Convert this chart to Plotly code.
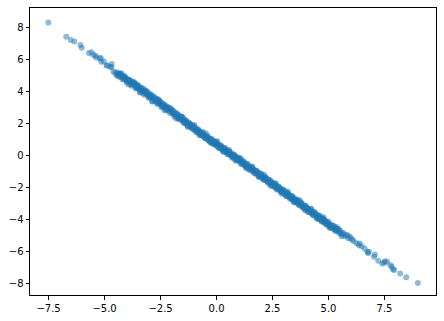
import plotly.graph_objects as go

# Sparse upper-left tail
x_left = [-7.51, -6.71, -6.51, -6.35, -6.08, -6.02, -5.70, -5.58, -5.50, -5.40, -5.37,
          -5.21, -5.17, -5.15, -5.03, -4.91, -4.88, -4.73, -4.70, -4.68, -4.60]
y_left = [8.33, 7.44, 7.23, 7.14, 6.92, 6.75, 6.42, 6.46, 6.29, 6.25, 6.14,
          6.08, 6.10, 5.87, 5.89, 5.63, 5.63, 5.56, 5.52, 5.73, 5.25]

# Dense central band
x_band = [-4.52, -4.47, -4.44, -4.40, -4.36, -4.31, -4.28, -4.22, -4.19, -4.14, -4.11, -4.06,
          -4.02, -3.98, -3.95, -3.90, -3.86, -3.83, -3.78, -3.74, -3.71, -3.66, -3.62, -3.59,
          -3.55, -3.50, -3.47, -3.43, -3.38, -3.35, -3.31, -3.26, -3.22, -3.19, -3.14, -3.11,
          -3.06, -3.02, -2.99, -2.94, -2.91, -2.86, -2.82, -2.79, -2.74, -2.71, -2.66, -2.62,
          -2.58, -2.55, -2.50, -2.47, -2.43, -2.38, -2.35, -2.30, -2.27, -2.22, -2.19, -2.14,
          -2.10, -2.07, -2.02, -1.98, -1.95, -1.90, -1.87, -1.82, -1.78, -1.75, -1.70, -1.66,
          -1.63, -1.58, -1.55, -1.50, -1.46, -1.43, -1.38, -1.34, -1.31, -1.26, -1.23, -1.18,
          -1.14, -1.11, -1.06, -1.02, -0.99, -0.94, -0.91, -0.86, -0.82, -0.79, -0.74, -0.70,
          -0.67, -0.62, -0.58, -0.55, -0.50, -0.46, -0.43, -0.38, -0.34, -0.31, -0.26, -0.22,
          -0.19, -0.14, -0.10, -0.07, -0.02, 0.02, 0.05, 0.10, 0.14, 0.17, 0.22, 0.26,
          0.29, 0.34, 0.38, 0.41, 0.46, 0.50, 0.53, 0.58, 0.62, 0.65, 0.70, 0.74,
          0.77, 0.82, 0.86, 0.89, 0.94, 0.98, 1.01, 1.06, 1.10, 1.13, 1.18, 1.22,
          1.25, 1.30, 1.34, 1.37, 1.42, 1.46, 1.49, 1.54, 1.58, 1.61, 1.66, 1.70,
          1.73, 1.78, 1.82, 1.85, 1.90, 1.94, 1.97, 2.02, 2.06, 2.09, 2.14, 2.18,
          2.21, 2.26, 2.30, 2.33, 2.38, 2.42, 2.45, 2.50, 2.54, 2.57, 2.62, 2.66,
          2.69, 2.74, 2.78, 2.81, 2.86, 2.90, 2.93, 2.98, 3.02, 3.05, 3.10, 3.14,
          3.17, 3.22, 3.26, 3.29, 3.34, 3.38, 3.41, 3.46, 3.50, 3.53, 3.58, 3.62,
          3.65, 3.70, 3.74, 3.77, 3.82, 3.86, 3.89, 3.94, 3.98, 4.01, 4.06, 4.10,
          4.13, 4.18, 4.22, 4.25, 4.30, 4.34, 4.37, 4.42, 4.46, 4.49, 4.54, 4.58,
          4.61, 4.66, 4.70, 4.73, 4.78, 4.82, 4.85, 4.90, 4.94, 4.97, 5.02, 5.07,
          5.12, 5.18, 5.23, 5.29, 5.34, 5.41, 5.47, 5.53, 5.60, 5.66, 5.72]
y_band = [5.18, 5.02, 5.21, 5.05, 5.12, 4.93, 5.06, 4.88, 5.01, 4.79, 4.95, 4.86,
          4.67, 4.79, 4.61, 4.72, 4.55, 4.68, 4.49, 4.61, 4.43, 4.52, 4.31, 4.48,
          4.27, 4.41, 4.22, 4.29, 4.11, 4.24, 4.05, 4.18, 3.97, 4.06, 3.86, 3.99,
          3.79, 3.91, 3.72, 3.80, 3.63, 3.75, 3.52, 3.66, 3.47, 3.58, 3.36, 3.49,
          3.31, 3.41, 3.18, 3.34, 3.12, 3.22, 3.03, 3.16, 2.96, 3.06, 2.87, 3.01,
          2.79, 2.93, 2.71, 2.82, 2.63, 2.77, 2.55, 2.66, 2.47, 2.58, 2.36, 2.51,
          2.29, 2.40, 2.19, 2.33, 2.12, 2.22, 2.01, 2.15, 1.93, 2.06, 1.87, 1.95,
          1.76, 1.89, 1.68, 1.79, 1.60, 1.72, 1.51, 1.64, 1.45, 1.53, 1.32, 1.47,
          1.26, 1.36, 1.17, 1.30, 1.09, 1.19, 1.02, 1.12, 0.93, 1.06, 0.85, 0.96,
          0.78, 0.90, 0.71, 0.82, 0.63, 0.76, 0.55, 0.66, 0.48, 0.61, 0.39, 0.52,
          0.33, 0.43, 0.24, 0.37, 0.16, 0.28, 0.09, 0.21, 0.01, 0.12, -0.07, 0.05,
          -0.14, -0.03, -0.23, -0.09, -0.31, -0.18, -0.38, -0.26, -0.47, -0.33, -0.55, -0.42,
          -0.61, -0.50, -0.70, -0.57, -0.79, -0.66, -0.86, -0.73, -0.95, -0.82, -1.03, -0.91,
          -1.10, -0.98, -1.19, -1.06, -1.27, -1.14, -1.35, -1.22, -1.43, -1.31, -1.51, -1.38,
          -1.58, -1.47, -1.67, -1.54, -1.75, -1.63, -1.83, -1.70, -1.91, -1.79, -2.00, -1.86,
          -2.07, -1.95, -2.16, -2.03, -2.24, -2.11, -2.31, -2.19, -2.40, -2.27, -2.48, -2.35,
          -2.56, -2.44, -2.64, -2.51, -2.72, -2.60, -2.80, -2.68, -2.89, -2.76, -2.97, -2.84,
          -3.05, -2.92, -3.13, -3.01, -3.21, -3.09, -3.29, -3.17, -3.38, -3.25, -3.46, -3.33,
          -3.54, -3.42, -3.62, -3.49, -3.70, -3.58, -3.78, -3.66, -3.86, -3.73, -3.95, -3.82,
          -4.02, -3.90, -4.11, -3.98, -4.19, -4.06, -4.26, -4.15, -4.35, -4.22, -4.43, -4.30,
          -4.52, -4.41, -4.63, -4.50, -4.71, -4.62, -4.84, -4.73, -4.95, -4.86, -5.07]

# Second layer of band points
x_band2 = [-4.42, -4.33, -4.17, -4.08, -3.96, -3.88, -3.80, -3.64, -3.57, -3.52, -3.45, -3.36,
           -3.28, -3.24, -3.09, -3.04, -2.97, -2.84, -2.77, -2.69, -2.64, -2.52, -2.45, -2.40,
           -2.28, -2.24, -2.16, -2.00, -1.93, -1.85, -1.72, -1.68, -1.60, -1.48, -1.40, -1.36,
           -1.21, -1.16, -1.08, -0.97, -0.88, -0.84, -0.72, -0.64, -0.60, -0.53, -0.40, -0.36,
           -0.28, -0.16, -0.12, -0.04, 0.07, 0.12, 0.20, 0.24, 0.36, 0.44, 0.48, 0.60,
           0.68, 0.72, 0.80, 0.92, 0.96, 1.04, 1.16, 1.20, 1.28, 1.40, 1.44, 1.52,
           1.64, 1.68, 1.76, 1.87, 1.92, 2.00, 2.10, 2.16, 2.24, 2.36, 2.44, 2.48,
           2.60, 2.68, 2.72, 2.84, 2.88, 2.96, 3.08, 3.12, 3.20, 3.32, 3.36, 3.48,
           3.56, 3.60, 3.68, 3.80, 3.84, 3.92, 4.04, 4.08, 4.16, 4.28, 4.32, 4.40,
           4.52, 4.56, 4.64, 4.76, 4.80, 4.88, 5.00, 5.10, 5.16, 5.26, 5.32, 5.44, 5.50, 5.62]
y_band2 = [5.08, 5.07, 4.90, 4.74, 4.70, 4.62, 4.46, 4.40, 4.22, 4.28, 4.12, 4.02,
           4.02, 3.90, 3.82, 3.70, 3.63, 3.58, 3.43, 3.46, 3.28, 3.27, 3.19, 3.07,
           3.02, 2.90, 2.90, 2.77, 2.60, 2.59, 2.46, 2.34, 2.35, 2.18, 2.04, 2.10,
           1.93, 1.82, 1.80, 1.62, 1.55, 1.58, 1.38, 1.37, 1.25, 1.21, 1.14, 1.02,
           1.00, 0.83, 0.86, 0.71, 0.66, 0.55, 0.52, 0.43, 0.37, 0.22, 0.24, 0.06,
           0.04, -0.05, -0.06, -0.24, -0.22, -0.30, -0.48, -0.46, -0.62, -0.68, -0.79, -0.80,
           -0.98, -0.94, -1.10, -1.13, -1.26, -1.27, -1.44, -1.42, -1.58, -1.62, -1.78, -1.74,
           -1.94, -1.94, -2.07, -2.10, -2.22, -2.24, -2.42, -2.38, -2.54, -2.58, -2.70, -2.76,
           -2.90, -2.86, -3.02, -3.06, -3.19, -3.20, -3.38, -3.34, -3.50, -3.54, -3.66, -3.68,
           -3.86, -3.82, -3.98, -4.02, -4.14, -4.16, -4.34, -4.38, -4.50, -4.54, -4.66, -4.72, -4.86, -4.90]

# Third layer, slightly wider around the band centre
x_band3 = [-4.38, -4.29, -4.20, -4.10, -4.00, -3.91, -3.81, -3.72, -3.61, -3.53, -3.42, -3.33,
           -3.23, -3.13, -3.03, -2.95, -2.85, -2.75, -2.65, -2.57, -2.46, -2.37, -2.26, -2.17,
           -2.08, -1.97, -1.88, -1.77, -1.69, -1.57, -1.47, -1.39, -1.29, -1.19, -1.09, -1.01,
           -0.89, -0.81, -0.71, -0.61, -0.51, -0.41, -0.32, -0.21, -0.11, -0.01, 0.09, 0.19,
           0.28, 0.39, 0.49, 0.59, 0.69, 0.78, 0.88, 0.99, 1.09, 1.19, 1.29, 1.38,
           1.48, 1.59, 1.69, 1.79, 1.89, 1.98, 2.08, 2.19, 2.29, 2.39, 2.49, 2.59,
           2.68, 2.79, 2.89, 2.99, 3.09, 3.19, 3.28, 3.39, 3.49, 3.59, 3.69, 3.79,
           3.88, 3.99, 4.09, 4.19, 4.29, 4.39, 4.48, 4.59, 4.69, 4.79, 4.89, 4.99,
           5.09, 5.21, 5.31, 5.45]
y_band3 = [4.95, 5.13, 4.78, 4.95, 4.56, 4.73, 4.36, 4.55, 4.19, 4.37, 3.97, 4.15,
           3.80, 3.98, 3.61, 3.79, 3.40, 3.57, 3.22, 3.42, 3.02, 3.19, 2.81, 3.00,
           2.66, 2.81, 2.43, 2.59, 2.26, 2.42, 2.03, 2.21, 1.84, 2.02, 1.67, 1.85,
           1.44, 1.63, 1.28, 1.46, 1.07, 1.23, 0.87, 1.04, 0.69, 0.85, 0.46, 0.63,
           0.29, 0.46, 0.07, 0.23, -0.14, 0.05, -0.30, -0.15, -0.54, -0.37, -0.72, -0.53,
           -0.92, -0.77, -1.14, -0.96, -1.31, -1.14, -1.53, -1.37, -1.72, -1.54, -1.93, -1.77,
           -2.13, -1.96, -2.31, -2.15, -2.54, -2.37, -2.71, -2.54, -2.93, -2.77, -3.14, -2.96,
           -3.30, -3.15, -3.54, -3.37, -3.72, -3.54, -3.92, -3.77, -4.14, -3.96, -4.31, -4.15,
           -4.54, -4.39, -4.74, -4.61]

# Points spread slightly off the band centre
x_spread = [-4.25, -3.92, -3.68, -3.40, -3.15, -2.88, -2.60, -2.33, -2.05, -1.80, -1.52, -1.28,
            -1.00, -0.76, -0.48, -0.24, 0.03, 0.31, 0.56, 0.84, 1.08, 1.35, 1.60, 1.88,
            2.12, 2.40, 2.64, 2.92, 3.18, 3.44, 3.72, 3.96, 4.24, 4.50, 4.76, 5.05, 5.36, 5.58]
y_spread = [5.15, 4.45, 4.58, 3.92, 4.06, 3.38, 3.52, 2.85, 2.95, 2.32, 2.42, 1.78,
            1.91, 1.27, 1.39, 0.76, 0.88, 0.21, 0.34, -0.32, -0.18, -0.84, -0.70, -1.36,
            -1.22, -1.88, -1.74, -2.41, -2.27, -2.92, -2.81, -3.45, -3.34, -3.98, -3.86, -4.54, -4.48, -5.06]

# Sparse lower-right tail
x_right = [5.78, 5.84, 5.88, 5.95, 5.99, 6.06, 6.12, 6.25, 6.36, 6.39, 6.48, 6.61, 6.73, 6.77,
           6.80, 7.03, 7.07, 7.22, 7.40, 7.49, 7.52, 7.62, 7.77, 7.82, 7.88, 7.93, 8.20, 8.47, 8.99]
y_right = [-4.98, -5.00, -5.19, -5.08, -5.21, -5.27, -5.36, -5.50, -5.63, -5.52, -5.69, -5.83, -6.04, -6.14,
           -6.04, -6.36, -6.21, -6.60, -6.77, -6.73, -6.63, -6.67, -6.88, -6.98, -7.13, -7.19, -7.40, -7.64, -8.00]

x_all = x_left + x_band + x_band2 + x_band3 + x_spread + x_right
y_all = y_left + y_band + y_band2 + y_band3 + y_spread + y_right

fig = go.Figure(go.Scatter(
    x=x_all, y=y_all, mode="markers",
    marker=dict(color="#1f77b4", size=6, opacity=0.5, line=dict(width=0)),
    showlegend=False,
))

axis_common = dict(
    showgrid=False, zeroline=False, showline=True, mirror=True,
    linecolor="black", linewidth=1, ticks="outside", ticklen=3.5,
    tickwidth=1, tickcolor="black",
    tickfont=dict(family="DejaVu Sans", size=10, color="black"),
)

fig.update_xaxes(range=[-8.33, 9.80], tickmode="array",
                 tickvals=[-7.5, -5.0, -2.5, 0.0, 2.5, 5.0, 7.5],
                 tickformat=".1f", **axis_common)
fig.update_yaxes(range=[-8.75, 9.24], tickmode="array",
                 tickvals=[-8, -6, -4, -2, 0, 2, 4, 6, 8], **axis_common)

fig.update_layout(
    width=444, height=321,
    margin=dict(l=30, r=7, t=7, b=25),
    paper_bgcolor="white", plot_bgcolor="white",
    font=dict(family="DejaVu Sans", size=10, color="black"),
)

fig.write_html("out.html")
